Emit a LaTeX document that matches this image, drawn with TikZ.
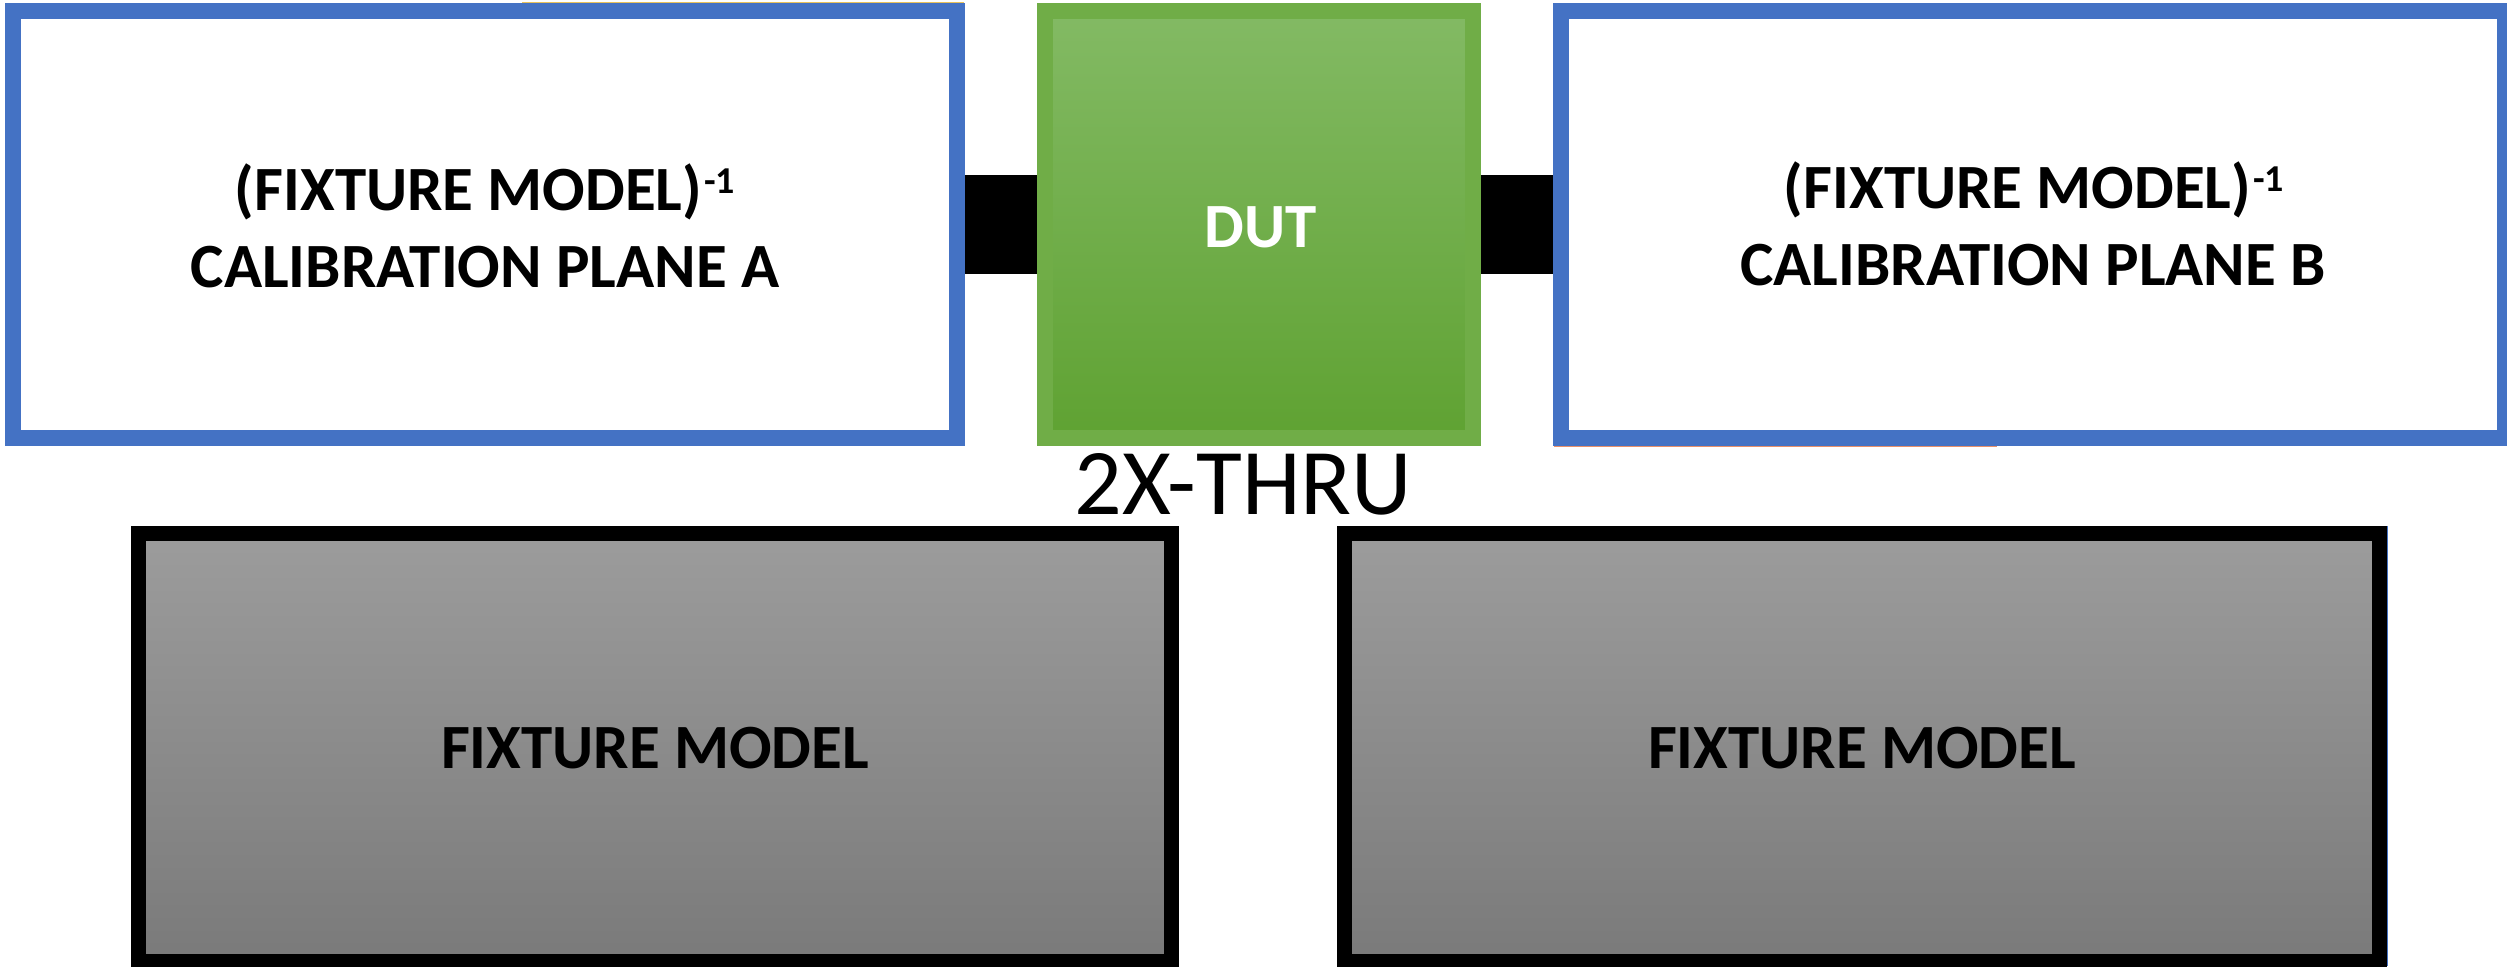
\documentclass[tikz,border=0pt]{standalone}
\usepackage{fontspec}
\setmainfont{Carlito}
\definecolor{cblue}{HTML}{4472C4}
\definecolor{cgreen}{HTML}{70AD47}
\definecolor{cgreentop}{HTML}{83BA64}
\definecolor{cgreenbot}{HTML}{5FA232}
\definecolor{cgraytop}{HTML}{9C9C9C}
\definecolor{cgraybot}{HTML}{7A7A7A}
\definecolor{cyellow}{HTML}{E9C25C}
\definecolor{corange}{HTML}{E9906A}
\newcommand{\supinv}{\kern1pt\raisebox{8.5pt}{\fontsize{19}{19}\selectfont\bfseries -1}}
\begin{document}
\begin{tikzpicture}[x=0.5pt,y=-0.5pt,
  calbox/.style={draw=cblue, line width=8pt, fill=white, minimum width=472pt, minimum height=213.5pt, inner sep=0pt},
  dutbox/.style={draw=cgreen, line width=8pt, top color=cgreentop, bottom color=cgreenbot, minimum width=214pt, minimum height=213.5pt, inner sep=0pt},
  fixbox/.style={draw=black, line width=7.5pt, top color=cgraytop, bottom color=cgraybot, minimum height=214pt, inner sep=0pt},
  boldtxt/.style={font=\fontsize{31.5}{38}\selectfont\bfseries, anchor=base, inner sep=0pt},
  thrutxt/.style={font=\fontsize{47}{52}\selectfont, anchor=base, inner sep=0pt},
  bar/.style={line width=49.75pt, black},
  trace/.style={line width=0.75pt},
]
\fill[white] (0,0) rectangle (2507,966);
\useasboundingbox (0,0) rectangle (2507,966);
% boxes
\node[calbox] (calA) at (485,224.5) {};
\node[dutbox] (dut) at (1259,224.5) {};
\node[calbox] (calB) at (2033,224.5) {};
\node[fixbox, minimum width=516.5pt] (fixA) at (655,747.5) {};
\node[fixbox, minimum width=517.5pt] (fixB) at (1862,747.5) {};
% connectors
\draw[bar] (calA.east) -- (dut.west);
\draw[bar] (dut.east) -- (calB.west);
% texts
\node[boldtxt] (tA1) at (485,210) {(FIXTURE MODEL)\supinv};
\node[boldtxt] (tA2) at (485,287) {CALIBRATION PLANE A};
\node[boldtxt] (tB1) at (2034,208) {(FIXTURE MODEL)\supinv};
\node[boldtxt] (tB2) at (2033,285) {CALIBRATION PLANE B};
\node[boldtxt, text=white] (tdut) at (1261,247) {DUT};
\node[thrutxt] (thru) at (1243.5,514) {2X-THRU};
\node[boldtxt] (tfA) at (655,768) {FIXTURE MODEL};
\node[boldtxt] (tfB) at (1862,768) {FIXTURE MODEL};
% thin edge traces
\draw[trace, cyellow] (522,2.5) -- (964,2.5);
\draw[trace, corange] (1554,446.5) -- (1997,446.5);
\draw[trace, cblue] (2387.5,526) -- (2387.5,966);
\end{tikzpicture}
\end{document}
